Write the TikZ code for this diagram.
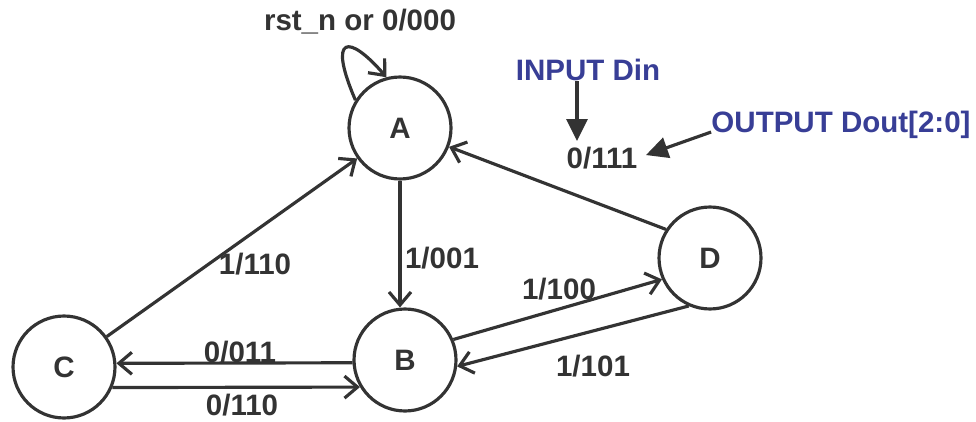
\documentclass[tikz,border=0pt]{standalone}
\usepackage{fontspec}
\setmainfont{Liberation Sans}
\usetikzlibrary{arrows.meta,positioning,calc}
\definecolor{fsmgray}{RGB}{51,51,51}
\definecolor{fsmblue}{RGB}{56,62,150}
\tikzset{
    fsmstate/.style={circle, draw=fsmgray, line width=1.8pt, minimum size=2.04cm, inner sep=0pt, text=fsmgray, font=\fontsize{16.8}{20}\bfseries\selectfont},
    transition/.style={draw=fsmgray, line width=1.8pt, -{Straight Barb[length=2.6mm, width=4.4mm, line width=1.8pt]}},
    pointer/.style={draw=fsmgray, line width=1.8pt, -{Triangle[length=4.4mm, width=4.2mm]}},
    tlabel/.style={text=fsmgray, inner sep=0pt, font=\fontsize{16.8}{20}\bfseries\selectfont},
    note/.style={text=fsmblue, inner sep=0pt, font=\fontsize{16.8}{20}\bfseries\selectfont}
}

\begin{document}
\begin{tikzpicture}[x=0.02cm, y=-0.02cm]
    \useasboundingbox (0,0) rectangle (976,422);
    % states
    \node[fsmstate] (A) at (400,128) {A};
    \node[fsmstate] (B) at (405,360) {B};
    \node[fsmstate] (C) at (64,367) {C};
    \node[fsmstate] (D) at (710,258) {D};
    % transitions
    \draw[transition] (A.148) .. controls +(-28,-65) and +(-38,-44) .. (A.105);
    \draw[transition] (A.south) -- (A.south |- B.north);
    \draw[transition] (C) -- (A);
    \draw[transition] (B.183) -- (C.4);
    \draw[transition] (C.-23) -- (B.211);
    \draw[transition] (B.23) -- (D.204);
    \draw[transition] (D.246) -- (B.353);
    \draw[transition] (D.147) -- (A.339);
    % labels
    \node[tlabel] (lrst) at (360,22) {rst\_n or 0/000};
    \node[tlabel] (l001) at (442,258) {1/001};
    \node[tlabel] (l110a) at (255,264) {1/110};
    \node[tlabel] (l011) at (240,352) {0/011};
    \node[tlabel] (l110b) at (242,405) {0/110};
    \node[tlabel] (l100) at (559,289) {1/100};
    \node[tlabel] (l101) at (593,366) {1/101};
    \node[tlabel] (l111) at (602,158) {0/111};
    % input / output notes
    \node[note] (din) at (588,70) {INPUT Din};
    \node[note] (dout) at (841,125) {OUTPUT Dout[2:0]};
    \draw[pointer] (din.south -| 577,0) -- (577,141);
    \draw[pointer, shorten >=5pt] ([yshift=-4pt]dout.west) -- (l111.east);
\end{tikzpicture}
\end{document}
